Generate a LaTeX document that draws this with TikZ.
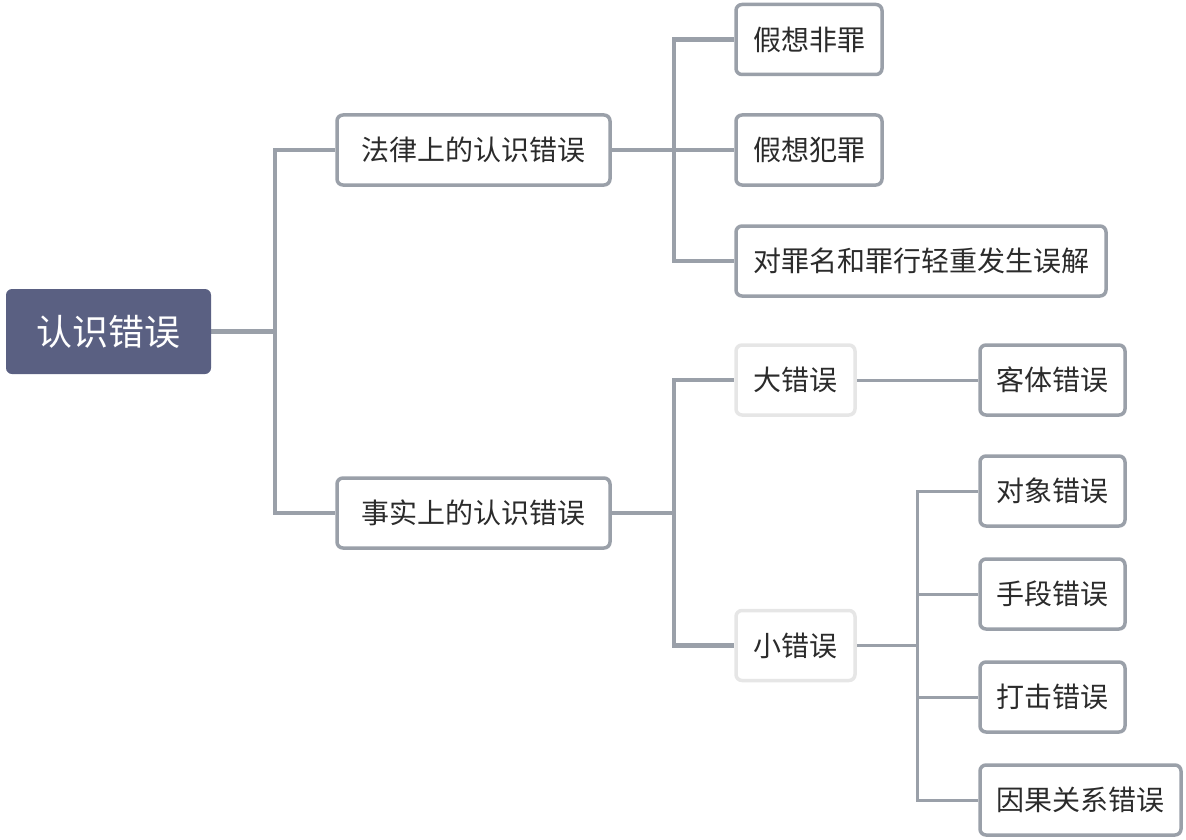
\documentclass[tikz,border=0pt]{standalone}
\usepackage{fontspec}
\setmainfont{Noto Sans CJK SC}
\usetikzlibrary{backgrounds}
\begin{document}
\begin{tikzpicture}[x=1pt,y=-1pt,
  box/.style={draw=lineC, line width=3.5pt, rounded corners=6pt, fill=white, text=textC,
    font=\fontsize{28}{30}\selectfont, inner sep=0pt, minimum height=70pt, anchor=center},
  lightbox/.style={box, draw=lightC},
  rootbox/.style={fill=rootC, text=white, rounded corners=6pt, inner sep=0pt,
    font=\fontsize{36}{40}\selectfont, minimum width=205pt, minimum height=85pt},
  conn/.style={draw=lineC, line width=4.5pt, line join=miter},
  thin/.style={draw=lineC, line width=3pt, line join=miter}]
\definecolor{lineC}{HTML}{9AA0A9}
\definecolor{lightC}{HTML}{E6E6E6}
\definecolor{rootC}{HTML}{5A6082}
\definecolor{textC}{HTML}{2B2B2B}
\useasboundingbox (0,0) rectangle (1186,840);
\node[rootbox] (root) at (108.5,331.5) {认识错误};
\node[box, minimum width=273pt] (legal) at (473.5,150) {法律上的认识错误};
\node[box, minimum width=273pt] (fact) at (473.5,513) {事实上的认识错误};
\node[box, minimum width=146pt] (a1) at (809,39.5) {假想非罪};
\node[box, minimum width=146pt] (a2) at (809,150) {假想犯罪};
\node[box, minimum width=370pt] (a3) at (921,261) {对罪名和罪行轻重发生误解};
\node[lightbox, minimum width=119pt] (big) at (795.5,380) {大错误};
\node[lightbox, minimum width=119pt] (small) at (795.5,645.5) {小错误};
\node[box, minimum width=145pt] (b1) at (1052.5,380) {客体错误};
\node[box, minimum width=145pt] (c1) at (1052.5,491) {对象错误};
\node[box, minimum width=145pt] (c2) at (1052.5,594) {手段错误};
\node[box, minimum width=145pt] (c3) at (1052.5,697) {打击错误};
\node[box, minimum width=201pt] (c4) at (1080.5,800) {因果关系错误};
\begin{scope}[on background layer]
\draw[conn] (root.east) -- ++(64,0) |- (legal.west);
\draw[conn] (root.east) -- ++(64,0) |- (fact.west);
\draw[conn] (legal.east) -- ++(62,0) |- (a1.west);
\draw[conn] (legal.east) -- (a2.west);
\draw[conn] (legal.east) -- ++(62,0) |- (a3.west);
\draw[conn] (fact.east) -- ++(62,0) |- (big.west);
\draw[conn] (fact.east) -- ++(62,0) |- (small.west);
\draw[thin] (big.east) -- (b1.west);
\draw[thin] (small.east) -- ++(61,0) |- (c1.west);
\draw[thin] (small.east) -- ++(61,0) |- (c2.west);
\draw[thin] (small.east) -- ++(61,0) |- (c3.west);
\draw[thin] (small.east) -- ++(61,0) |- (c4.west);
\end{scope}
\end{tikzpicture}
\end{document}
